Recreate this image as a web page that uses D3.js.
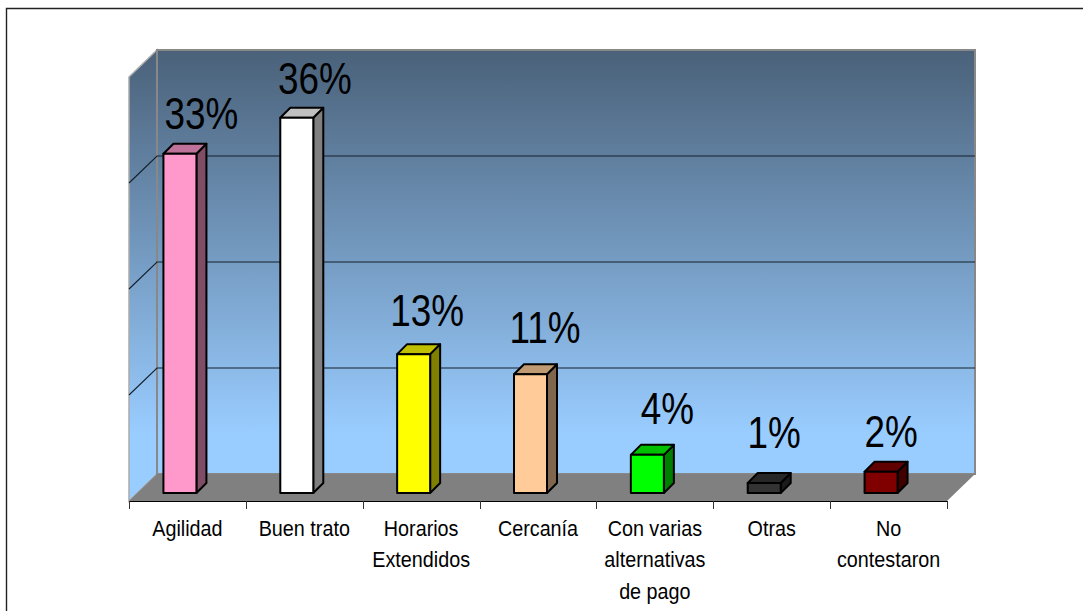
<!DOCTYPE html>
<html><head><meta charset="utf-8">
<script src="https://cdn.jsdelivr.net/npm/d3@7"></script>
<style>html,body{margin:0;padding:0;background:#fff}svg{display:block}text{font-family:"Liberation Sans",Arial,sans-serif;fill:#000}</style>
</head><body><svg id="c" width="1083" height="611"></svg>
<script>
const categories=[["Agilidad"],["Buen trato"],["Horarios","Extendidos"],["Cercanía"],["Con varias","alternativas","de pago"],["Otras"],["No","contestaron"]];
const percentLabels=["33%","36%","13%","11%","4%","1%","2%"];
const values=[32,35.4,13.1,11.2,3.6,0.95,2];
const frontColors=["#ff99cc","#ffffff","#ffff00","#ffcc99","#00ff00","#333333","#800000"];
const topColors=["#c0739a","#c0c0c0","#c0c000","#c09a73","#00c000","#262626","#600000"];
const sideColors=["#804d66","#808080","#808000","#80664d","#008000","#1a1a1a","#400000"];
const yTicks=[0,10,20,30,40];

const labelShift=[[21.5,25],[18,24],[13.5,28],[14.5,31],[20,30.5],[10,35],[10,24.5]];

const svg=d3.select("#c");
const W=[129,947],dx=28,dy=27;
const x=d3.scaleBand().domain(d3.range(categories.length)).range(W);
const y=d3.scaleLinear().domain([0,40]).range([474,50]);
const defs=svg.append("defs");
const g=defs.append("linearGradient").attr("id","wall").attr("gradientUnits","userSpaceOnUse").attr("x1",0).attr("x2",0).attr("y1",50).attr("y2",474);
g.append("stop").attr("offset",0).attr("stop-color","#4a6179");
g.append("stop").attr("offset",0.9).attr("stop-color","#99ccff");
g.append("stop").attr("offset",1).attr("stop-color","#99ccff");
const line=d3.line();
svg.append("path").attr("d",line([[6.5,611],[6.5,8.5],[1083,8.5]])).attr("fill","none").attr("stroke","#222").attr("stroke-width",1.4);
const Y0=y(0),Yt=y(40),L=W[0],R=W[1];
svg.append("path").attr("d",line([[L,Yt+dy],[L+dx,Yt],[L+dx,Y0],[L,Y0+dy]])+"Z").attr("fill","url(#wall)").attr("stroke","#aaa").attr("stroke-width",1.5);
svg.append("path").attr("d",line([[L+dx,Yt],[R+dx,Yt],[R+dx,Y0],[L+dx,Y0]])+"Z").attr("fill","url(#wall)").attr("stroke","#888").attr("stroke-width",2);
svg.append("path").attr("d",line([[L,Y0+dy],[L+dx,Y0],[R+dx,Y0],[R,Y0+dy]])+"Z").attr("fill","#808080");
yTicks.slice(1,-1).forEach(t=>{
  svg.append("path").attr("d",line([[L,y(t)+dy],[L+dx,y(t)],[R+dx,y(t)]])).attr("fill","none").attr("stroke","#14202c").attr("stroke-width",1.1);
});
svg.append("path").attr("d",line([[L,Y0+dy+.5],[R,Y0+dy+.5]])).attr("stroke","#000").attr("stroke-width",1.2).attr("fill","none");
x.domain().concat(categories.length).forEach(i=>{
  const xp=Math.round(L+i*x.step())+.5;
  svg.append("line").attr("x1",xp).attr("x2",xp).attr("y1",Y0+dy).attr("y2",Y0+dy+8).attr("stroke","#333").attr("stroke-width",1);
});
categories.forEach((lines,i)=>{
  lines.forEach((s,k)=>svg.append("text").attr("text-anchor","middle").attr("font-size",21.5)
    .attr("transform",`translate(${x(i)+x.step()/2},${535.5+k*31.5}) scale(0.92,1)`).text(s));
});
const bw=33,bd=10,bBase=493;
const h=v=>Y0-y(v);
const labels=[];
categories.forEach((_,i)=>{
  const bx=x(i)+x.step()/2-bw/2-7.5;
  const top=bBase-h(values[i]);
  const st={stroke:"#000","stroke-width":2,"stroke-linejoin":"round"};
  const a=(p,f)=>{const e=svg.append("path").attr("d",line(p)+"Z").attr("fill",f);Object.entries(st).forEach(([k,v])=>e.attr(k,v));};
  a([[bx+bw,bBase],[bx+bw+bd,bBase-bd],[bx+bw+bd,top-bd],[bx+bw,top]],sideColors[i]);
  a([[bx,top],[bx+bd,top-bd],[bx+bw+bd,top-bd],[bx+bw,top]],topColors[i]);
  a([[bx,top],[bx+bw,top],[bx+bw,bBase],[bx,bBase]],frontColors[i]);
  labels.push([bx+bw/2+labelShift[i][0],top-labelShift[i][1],percentLabels[i]]);
});
labels.forEach(([lx,ly,t])=>svg.append("text").attr("text-anchor","middle").attr("font-size",45)
  .attr("transform",`translate(${lx},${ly}) scale(0.82,1)`).text(t));
</script></body></html>
